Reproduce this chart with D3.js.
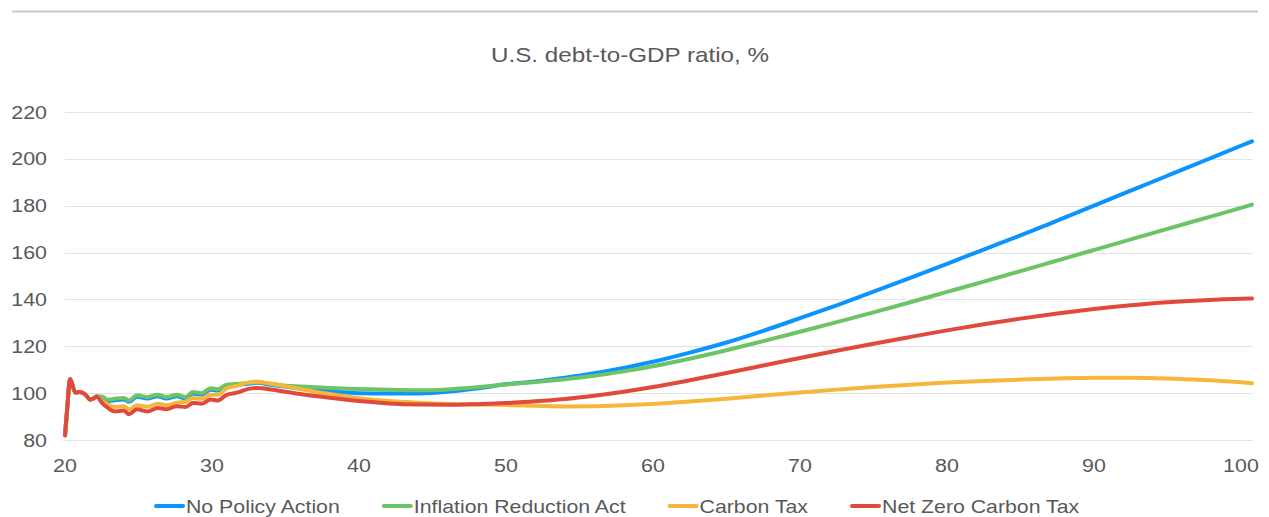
<!DOCTYPE html>
<html>
<head>
<meta charset="utf-8">
<script src="https://cdn.jsdelivr.net/npm/d3@7"></script>
<style>
  html, body { margin: 0; padding: 0; background: #fff; }
  svg { display: block; font-family: "Liberation Sans", Arial, sans-serif; }
</style>
</head>
<body>
<svg id="chart" width="1269" height="517"></svg>
<script>
// ---- data ----
const years = [20, 20.17, 20.34, 20.7, 21.0, 21.4, 21.7, 21.9, 22.15, 22.5,
  22.9, 23.4, 24.0, 24.35, 24.9, 25.6, 26.3, 26.9, 27.6, 28.2,
  28.7, 29.3, 29.9, 30.4, 31.0, 31.7, 32.4, 33.1, 34, 35,
  36, 38, 40, 42, 44, 46, 48, 50, 52, 54,
  56, 58, 60, 62.5, 65, 67.5, 70, 72.5, 75, 77.5,
  80, 82.5, 85, 87.5, 90, 92.5, 95, 97.5, 100, 100.75];

const noPolicy = [82, 95, 106, 100.3, 100.5, 99.3, 97.3, 97.6, 98.6, 98.0,
  96.6, 97.0, 97.3, 96.3, 98.5, 97.7, 98.7, 97.7, 98.7, 97.7,
  99.9, 99.4, 101.5, 101.1, 103.2, 103.5, 104.0, 104.4, 103.6, 102.8,
  102.0, 100.8, 100.0, 99.8, 99.9, 100.6, 102.0, 103.8, 105.0, 106.6,
  108.5, 110.8, 113.4, 117.3, 121.6, 126.6, 132.0, 137.5, 143.3, 149.2,
  155.2, 161.3, 167.3, 173.6, 180.0, 186.4, 192.8, 199.2, 205.6, 207.5];

const inflationReduction = [82, 95, 106, 100.3, 100.5, 99.3, 97.3, 97.6, 98.6, 98.6,
  97.2, 97.6, 97.9, 96.9, 99.1, 98.3, 99.3, 98.3, 99.3, 98.3,
  100.5, 100.0, 102.1, 101.7, 103.6, 103.9, 104.3, 104.7, 104.0, 103.2,
  102.8, 102.2, 101.8, 101.4, 101.2, 101.6, 102.5, 103.7, 104.7, 105.9,
  107.4, 109.3, 111.5, 114.7, 118.3, 122.2, 126.2, 130.3, 134.5, 138.8,
  143.2, 147.6, 152.1, 156.6, 161.1, 165.6, 170.1, 174.6, 179.1, 180.5];

const carbonTax = [82, 95, 106, 100.3, 100.5, 99.3, 97.3, 97.6, 98.6, 96.7,
  95.1, 94.1, 94.4, 93.1, 94.8, 94.2, 95.5, 94.8, 95.9, 96.3,
  97.9, 97.6, 99.3, 99.3, 102.1, 103.1, 104.5, 104.9, 104.0, 103.0,
  101.8, 99.6, 97.8, 96.6, 95.9, 95.4, 95.1, 94.9, 94.6, 94.35,
  94.4, 94.8, 95.4, 96.4, 97.6, 99.0, 100.3, 101.5, 102.6, 103.6,
  104.5, 105.2, 105.8, 106.3, 106.6, 106.6, 106.3, 105.6, 104.6, 104.2];

const netZero = [82, 95, 106, 100.3, 100.5, 99.3, 97.3, 97.6, 98.6, 96.0,
  93.8, 92.2, 92.6, 91.0, 93.1, 92.2, 93.7, 93.1, 94.4, 94.1,
  95.8, 95.5, 97.3, 96.9, 99.3, 100.2, 101.7, 102.2, 101.6, 100.6,
  99.6, 98.0, 96.6, 95.6, 95.1, 95.0, 95.3, 95.8, 96.5, 97.5,
  98.9, 100.6, 102.6, 105.5, 108.6, 111.8, 115.0, 118.1, 121.1, 124.0,
  126.8, 129.4, 131.8, 134.0, 135.9, 137.5, 138.8, 139.7, 140.3, 140.4];

const seriesNames = ["No Policy Action", "Inflation Reduction Act", "Carbon Tax", "Net Zero Carbon Tax"];
const seriesColors = ["#0a94ff", "#6cc466", "#f5b63c", "#e04a3d"];
const yTicks = [80, 100, 120, 140, 160, 180, 200, 220];
const xTicks = [20, 30, 40, 50, 60, 70, 80, 90, 100];
const xTickLabels = ["20", "30", "40", "50", "60", "70", "80", "90", "100"];
const title = "U.S. debt-to-GDP ratio, %";

// ---- chart ----
const svg = d3.select("#chart");
const SX = 1.17; // horizontal text stretch of the reference
const textColor = "#595959";

const x = d3.scaleLinear().domain([20, 100.75]).range([65, 1252]);
const y = d3.scaleLinear().domain([80, 220]).range([440, 112]);

// top border
svg.append("line").attr("x1", 12).attr("x2", 1258).attr("y1", 11.5).attr("y2", 11.5)
  .attr("stroke", "#c9c9c9").attr("stroke-width", 2);

// title
svg.append("text").attr("transform", `translate(630,62) scale(${SX},1)`)
  .attr("text-anchor", "middle").attr("font-size", 20.7).attr("fill", textColor).text(title);

// gridlines
svg.append("g").selectAll("line").data(yTicks).join("line")
  .attr("x1", 65).attr("x2", 1253)
  .attr("y1", d => Math.round(y(d)) + 0.5).attr("y2", d => Math.round(y(d)) + 0.5)
  .attr("stroke", "#e3e3e3").attr("stroke-width", 1);

// y labels
svg.append("g").selectAll("text").data(yTicks).join("text")
  .attr("transform", d => `translate(47,${y(d) + 6.5}) scale(${SX},1)`)
  .attr("text-anchor", "end").attr("font-size", 18.3).attr("fill", textColor)
  .text(d => d);

// x labels
svg.append("g").selectAll("text").data(xTicks).join("text")
  .attr("transform", d => `translate(${x(d)},472) scale(${SX},1)`)
  .attr("text-anchor", "middle").attr("font-size", 18.3).attr("fill", textColor)
  .text((d, i) => xTickLabels[i]);

// lines
const allSeries = [noPolicy, inflationReduction, carbonTax, netZero];
const line = d3.line().x((d, i) => x(years[i])).y(d => y(d)).curve(d3.curveMonotoneX);
svg.append("g").selectAll("path").data(allSeries).join("path")
  .attr("d", line).attr("fill", "none")
  .attr("stroke", (d, i) => seriesColors[i]).attr("stroke-width", 4)
  .attr("stroke-linejoin", "round").attr("stroke-linecap", "round");

// legend
const lg = svg.append("g");
let lx = 154;
seriesNames.forEach((name, i) => {
  lg.append("line").attr("x1", lx + 2).attr("x2", lx + 29).attr("y1", 506).attr("y2", 506)
    .attr("stroke", seriesColors[i]).attr("stroke-width", 4).attr("stroke-linecap", "round");
  const t = lg.append("text").attr("transform", `translate(${lx + 32},513) scale(${SX},1)`)
    .attr("font-size", 18.2).attr("fill", textColor).text(name);
  const w = t.node().getComputedTextLength() * SX;
  lx += 32 + w + 42;
});
</script>
</body>
</html>
